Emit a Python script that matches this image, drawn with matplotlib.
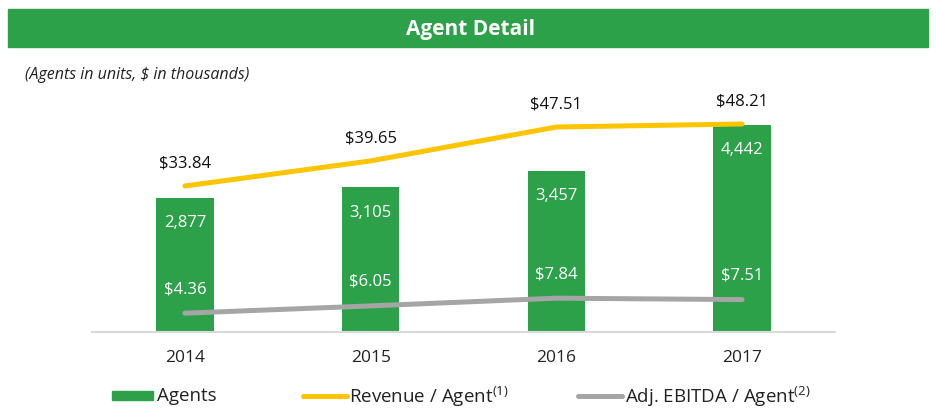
import matplotlib
matplotlib.use("Agg")
import matplotlib.pyplot as plt
from matplotlib.patches import Rectangle
from matplotlib.lines import Line2D

plt.rcParams['font.family'] = ['Open Sans', 'DejaVu Sans']
plt.rcParams['mathtext.fontset'] = 'custom'
plt.rcParams['mathtext.rm'] = 'Open Sans'
plt.rcParams['mathtext.it'] = 'Open Sans:italic'

# data
years = ['2014', '2015', '2016', '2017']
agents = [2877, 3105, 3457, 4442]
revenue_per_agent = [33.84, 39.65, 47.51, 48.21]
ebitda_per_agent = [4.36, 6.05, 7.84, 7.51]

green = '#2DA04A'
yellow = '#FCC500'
grey = '#A5A5A5'

W, H = 936, 410
fig = plt.figure(figsize=(W / 100, H / 100), dpi=100)


def fx(px):
    return px / W


def fy(py):
    return 1 - py / H


# green title bar
fig.patches.append(Rectangle((fx(8), fy(48)), fx(920), 38 / H,
                             transform=fig.transFigure, color=green, zorder=0))
fig.text(fx(470), fy(30), 'Agent Detail', color='white', fontsize=15,
         fontweight='bold', ha='center', va='center')
fig.text(fx(25), fy(75), '(Agents in units, $ in thousands)', fontsize=11.5,
         style='italic', ha='left', va='center', color='#222222')

ax = fig.add_axes([fx(92), fy(333), fx(835) - fx(92), 233 / H])
x = range(len(years))
ax.bar(x, agents, width=0.31, color=green, zorder=1)
ax.set_xlim(-0.5, 3.5)
ax.set_ylim(0, 5000)
for s in ['top', 'left', 'right']:
    ax.spines[s].set_visible(False)
ax.spines['bottom'].set_color('#D9D9D9')
ax.spines['bottom'].set_linewidth(1.5)
ax.set_yticks([])
ax.set_xticks(list(x))
ax.set_xticklabels(years, fontsize=12.5, color='#222222')
ax.tick_params(axis='x', length=0, pad=12)

for i, v in enumerate(agents):
    ax.annotate(f'{v:,}', (i, v), xytext=(0, -17.5), textcoords='offset points',
                ha='center', va='center', color='white', fontsize=12)

ax2 = ax.twinx()
ax2.set_ylim(0, 54)
ax2.axis('off')
ax2.plot(list(x), revenue_per_agent, color=yellow, lw=3.6,
         solid_capstyle='round', zorder=3)
ax2.plot(list(x), ebitda_per_agent, color=grey, lw=3.6,
         solid_capstyle='round', zorder=3)
for i, v in enumerate(revenue_per_agent):
    ax2.annotate(f'${v:.2f}', (i, v), xytext=(0, 17), textcoords='offset points',
                 ha='center', va='center', color='#111111', fontsize=12)
for i, v in enumerate(ebitda_per_agent):
    ax2.annotate(f'${v:.2f}', (i, v), xytext=(0, 18), textcoords='offset points',
                 ha='center', va='center', color='white', fontsize=12)

# legend
ly = fy(396.5)
fs_leg = 13.5
fig.patches.append(Rectangle((fx(112), fy(401)), fx(41), 9 / H,
                             transform=fig.transFigure, color=green))
fig.text(fx(157), ly, 'Agents', fontsize=fs_leg, va='center', color='#222222')
fig.lines.append(Line2D([fx(303), fx(347)], [ly, ly], transform=fig.transFigure,
                        color=yellow, lw=3.6, solid_capstyle='round'))
fig.text(fx(349), ly, r'Revenue / Agent$^{\mathrm{(1)}}$', fontsize=fs_leg,
         va='center', color='#222222')
fig.lines.append(Line2D([fx(578), fx(622)], [ly, ly], transform=fig.transFigure,
                        color=grey, lw=3.6, solid_capstyle='round'))
fig.text(fx(625), ly, r'Adj. EBITDA / Agent$^{\mathrm{(2)}}$', fontsize=fs_leg,
         va='center', color='#222222')

fig.savefig('out.png', dpi=100)
